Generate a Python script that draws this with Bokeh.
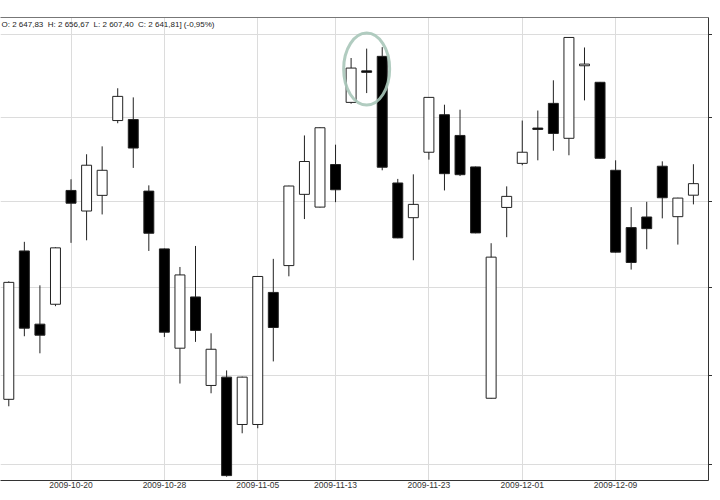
from bokeh.plotting import figure
from bokeh.models import (ColumnDataSource, FixedTicker, LinearAxis, Label, Range1d)
from bokeh.embed import file_html
from bokeh.resources import INLINE

# ---- data ----
dates = ["2009-10-14", "2009-10-15", "2009-10-16", "2009-10-19", "2009-10-20",
         "2009-10-21", "2009-10-22", "2009-10-23", "2009-10-26", "2009-10-27",
         "2009-10-28", "2009-10-29", "2009-10-30", "2009-11-02", "2009-11-03",
         "2009-11-04", "2009-11-05", "2009-11-06", "2009-11-09", "2009-11-10",
         "2009-11-12", "2009-11-13", "2009-11-16", "2009-11-17", "2009-11-18",
         "2009-11-19", "2009-11-20", "2009-11-23", "2009-11-24", "2009-11-25",
         "2009-11-26", "2009-11-27", "2009-11-30", "2009-12-01", "2009-12-02",
         "2009-12-03", "2009-12-04", "2009-12-07", "2009-12-08", "2009-12-09",
         "2009-12-10", "2009-12-11", "2009-12-14", "2009-12-15", "2009-12-16"]

opens = [2486.3, 2571.1, 2528.9, 2540.3, 2606.5, 2594.4, 2603.6, 2648.0, 2648.6, 2606.1,
         2572.3, 2515.2, 2544.5, 2494.1, 2498.8, 2472.2, 2472.2, 2547.1, 2562.6, 2604.2,
         2596.7, 2621.8, 2658.9, 2677.9, 2686.7, 2610.9, 2590.5, 2629.1, 2651.5, 2639.1,
         2620.4, 2486.9, 2596.5, 2622.5, 2643.5, 2658.3, 2637.4, 2681.0, 2671.0, 2618.4,
         2584.7, 2590.9, 2620.8, 2591.1, 2603.7]
highs = [2553.5, 2576.4, 2551.2, 2573.3, 2613.1, 2627.9, 2632.6, 2667.4, 2661.9, 2609.5,
         2572.5, 2561.8, 2574.0, 2523.7, 2502.6, 2499.1, 2556.5, 2566.5, 2609.3, 2639.1,
         2643.9, 2633.6, 2685.7, 2691.4, 2692.3, 2613.3, 2616.0, 2662.0, 2657.5, 2654.5,
         2620.6, 2575.6, 2608.9, 2648.0, 2654.0, 2672.2, 2698.3, 2692.1, 2671.2, 2624.3,
         2596.7, 2599.8, 2623.7, 2602.2, 2622.0]
lows = [2482.4, 2522.0, 2512.3, 2539.2, 2575.8, 2577.3, 2592.4, 2646.4, 2619.8, 2571.1,
        2521.6, 2495.2, 2518.8, 2489.7, 2443.2, 2467.3, 2470.1, 2507.7, 2556.4, 2589.7,
        2596.5, 2599.6, 2658.1, 2664.5, 2618.4, 2578.5, 2565.7, 2624.7, 2606.5, 2615.0,
        2581.4, 2486.7, 2579.1, 2621.4, 2624.3, 2630.0, 2627.3, 2660.1, 2625.3, 2570.2,
        2560.3, 2572.1, 2590.1, 2574.8, 2598.3]
closes = [2552.9, 2526.6, 2522.6, 2572.9, 2599.0, 2621.4, 2618.4, 2662.5, 2631.6, 2581.4,
          2524.3, 2557.2, 2525.3, 2514.6, 2443.8, 2498.8, 2556.3, 2527.0, 2609.1, 2623.6,
          2643.7, 2606.9, 2679.6, 2677.0, 2620.2, 2578.7, 2598.3, 2661.9, 2616.4, 2615.8,
          2581.6, 2567.5, 2603.0, 2629.1, 2642.7, 2640.3, 2698.2, 2682.0, 2625.5, 2570.4,
          2564.4, 2584.1, 2602.2, 2602.0, 2610.5]

tick_dates = ["2009-10-20", "2009-10-28", "2009-11-05", "2009-11-13",
              "2009-11-23", "2009-12-01", "2009-12-09"]
price_ticks = [2450, 2500, 2550, 2600, 2650, 2700]

header = "O:\u00a02\u00a0647,83\u00a0\u00a0H:\u00a02\u00a0656,67\u00a0\u00a0L:\u00a02\u00a0607,40\u00a0\u00a0C:\u00a02\u00a0641,81]\u00a0(-0,95%)"

highlight_date = "2009-11-17"
highlight_price = 2679.0

# ---- build ----
xs = list(range(len(dates)))
tops = [max(o, c) for o, c in zip(opens, closes)]
bottoms = [min(o, c) for o, c in zip(opens, closes)]
fills = ["white" if c > o else "black" for o, c in zip(opens, closes)]

src = ColumnDataSource(dict(x=xs, high=highs, low=lows, top=tops, bottom=bottoms, fill=fills))

p = figure(width=712, height=492, output_backend="svg", toolbar_location=None,
           y_axis_type="log", y_axis_location="right",
           x_range=Range1d(-0.533, 44.97), y_range=Range1d(2441.1, 2710.4),
           min_border_left=0, min_border_right=4, min_border_top=17, min_border_bottom=12)
p.background_fill_color = "white"
p.border_fill_color = "white"
p.outline_line_color = None

# grid
x_ticks = [dates.index(d) for d in tick_dates]
p.xgrid.ticker = FixedTicker(ticks=x_ticks)
p.ygrid.ticker = FixedTicker(ticks=price_ticks)
p.xgrid.grid_line_color = "#dcdcdc"
p.ygrid.grid_line_color = "#dcdcdc"

# bottom axis
xa = p.xaxis[0]
xa.ticker = FixedTicker(ticks=x_ticks)
xa.major_label_overrides = {i: d for i, d in zip(x_ticks, tick_dates)}
xa.major_tick_out = 0
xa.major_tick_in = 0
xa.minor_tick_out = 0
xa.minor_tick_in = 0
xa.major_label_standoff = 1
xa.major_label_text_font = "Liberation Sans"
xa.major_label_text_font_size = "8.5px"
xa.major_label_text_color = "#333333"
xa.axis_line_color = "#333333"

# right axis: only tick marks visible (its labels fall outside the picture)
ya = p.yaxis[0]
ya.ticker = FixedTicker(ticks=price_ticks)
ya.major_label_overrides = {t: "" for t in price_ticks}
ya.major_tick_out = 4
ya.major_tick_in = 0
ya.minor_tick_out = 0
ya.minor_tick_in = 0
ya.major_label_standoff = 0
ya.axis_line_color = "#333333"
ya.major_tick_line_color = "#333333"

# top border line
top_axis = LinearAxis(major_tick_out=0, major_tick_in=0, minor_tick_out=0, minor_tick_in=0,
                      major_label_standoff=0, axis_line_color="#777777")
top_axis.ticker = FixedTicker(ticks=[])
p.add_layout(top_axis, "above")

# candles
p.segment(x0="x", y0="high", x1="x", y1="low", source=src, line_color="#222222", line_width=1)
p.vbar(x="x", top="top", bottom="bottom", width=0.64, source=src,
       fill_color="fill", line_color="#222222", line_width=1)

# highlight ellipse
p.ellipse(x=[dates.index(highlight_date)], y=[highlight_price], width=46, height=72,
          width_units="screen", height_units="screen", fill_color=None,
          line_color="#a9c6b9", line_width=3, line_alpha=0.9)

# header text
p.add_layout(Label(x=1, y=456, x_units="screen", y_units="screen", text=header,
                   text_font="Liberation Sans", text_font_size="8px",
                   text_baseline="middle", text_color="#222222"))

open("out.html", "w").write(file_html(p, INLINE))
